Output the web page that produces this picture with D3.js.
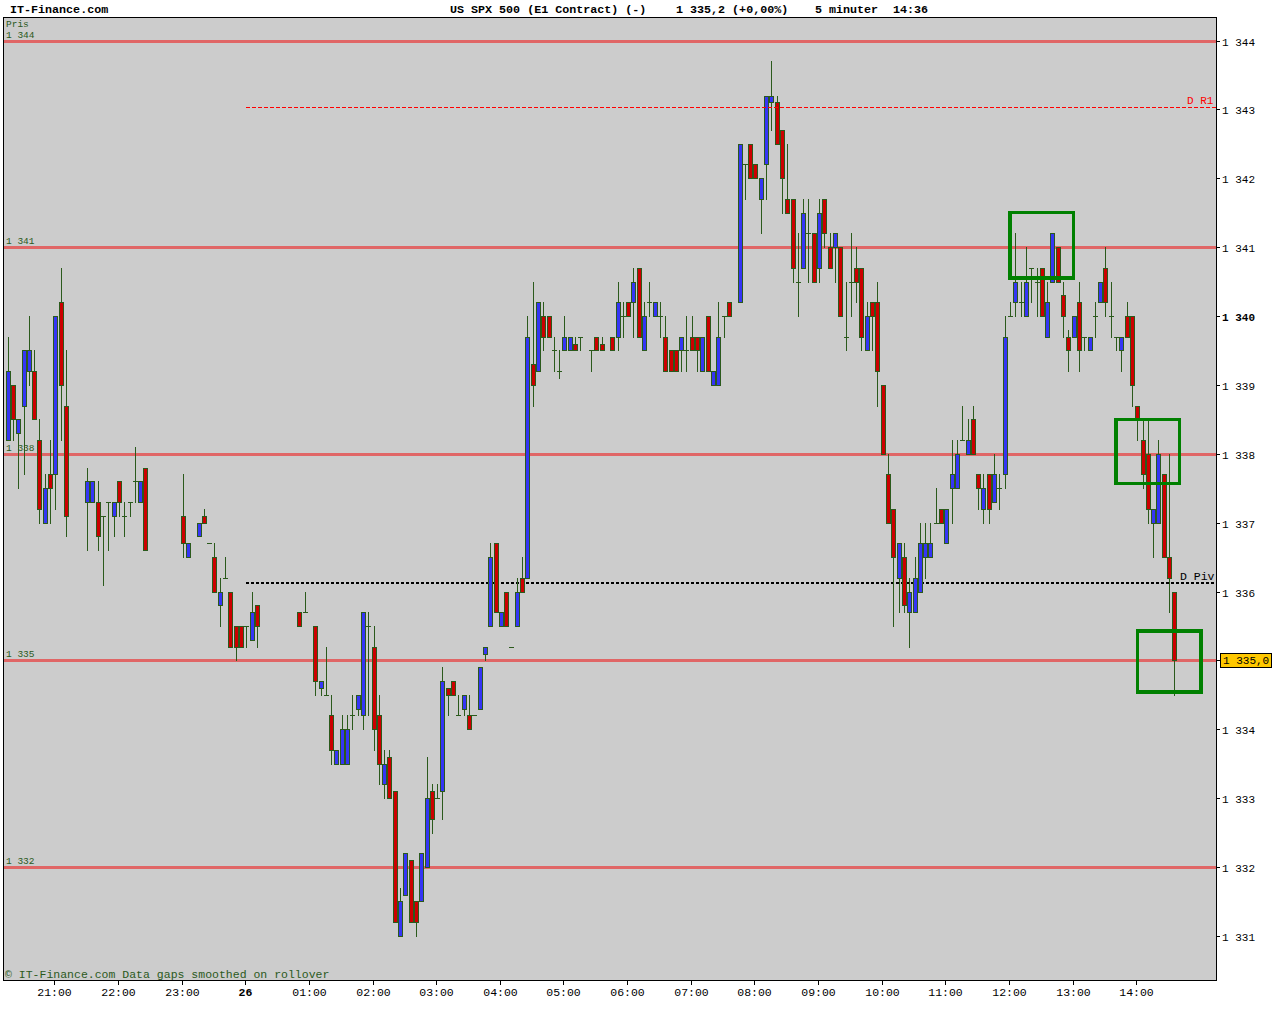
<!DOCTYPE html>
<html><head><meta charset="utf-8">
<script src="https://cdn.jsdelivr.net/npm/d3@7/dist/d3.min.js"></script>
<style>body{margin:0;background:#fff}svg{display:block}</style>
</head><body>
<svg id="c" width="1280" height="1024"></svg>
<script>
// ---------- DATA ----------
const times = [
"20:15","20:20","20:25","20:30","20:35","20:40","20:45","20:50","20:55","21:00","21:05","21:10",
"21:30","21:35","21:40","21:45","21:50","21:55","22:00","22:05","22:10","22:15","22:20","22:25",
"23:00","23:05","23:15","23:20","23:25","23:30","23:35","23:40","23:45","23:50","23:55","00:00","00:05","00:10",
"00:50","00:55",
"01:05","01:10","01:15","01:20","01:25","01:30","01:35","01:40","01:45","01:50","01:55",
"02:00","02:05","02:10","02:15","02:20","02:25","02:30","02:35","02:40","02:45","02:50","02:55",
"03:00","03:05","03:10","03:15","03:20","03:25","03:30","03:35","03:40","03:45","03:50","03:55",
"04:00","04:05","04:10","04:15","04:20","04:25","04:30","04:35","04:40","04:45","04:50","04:55",
"05:00","05:05","05:10","05:15","05:25","05:30","05:35","05:45","05:50","05:55",
"06:00","06:05","06:10","06:15","06:20","06:25","06:30","06:35","06:40","06:45","06:50","06:55",
"07:00","07:05","07:10","07:15","07:20","07:25","07:30","07:35","07:45","07:50","07:55",
"08:00","08:05","08:10","08:15","08:20","08:25","08:30","08:35","08:40","08:45","08:50","08:55",
"09:00","09:05","09:10","09:15","09:20","09:25","09:30","09:35","09:40","09:45","09:50","09:55",
"10:00","10:05","10:10","10:15","10:20","10:25","10:30","10:35","10:40","10:45","10:50","10:55",
"11:00","11:05","11:10","11:15","11:20","11:25","11:30","11:35","11:40","11:45","11:50","11:55",
"12:00","12:05","12:10","12:15","12:20","12:25","12:30","12:35","12:40","12:45","12:50","12:55",
"13:00","13:05","13:10","13:15","13:20","13:25","13:30","13:35","13:40","13:45","13:50","13:55",
"14:00","14:05","14:10","14:15","14:20","14:25","14:30","14:35"];

const open = [
338.2,339.0,338.3,338.7,339.2,339.2,338.2,337.0,337.7,337.7,340.2,338.7,
337.3,337.3,337.3,337.1,337.3,337.1,337.6,337.1,337.3,337.6,337.3,337.8,
337.1,336.5,336.8,337.1,336.7,336.5,335.8,336.2,336.0,335.5,335.5,335.5,335.3,335.8,
335.7,335.7,
335.5,334.6,334.5,334.2,333.5,333.5,333.5,334.2,334.3,334.2,335.5,
335.2,334.2,333.2,333.6,333.1,331.0,331.6,332.1,331.5,331.5,332.0,333.1,
333.0,333.1,334.6,334.7,334.2,334.3,334.2,334.2,334.3,335.1,335.5,336.7,
335.5,336.0,335.2,335.5,336.2,336.2,339.3,339.2,340.0,340.0,339.5,339.2,
339.5,339.5,339.6,339.7,339.5,339.7,339.6,339.7,339.7,340.0,
340.2,340.2,340.7,339.5,340.2,340.0,340.0,339.7,339.5,339.5,339.5,339.5,
339.7,339.7,339.2,340.0,339.0,339.0,340.0,340.2,340.2,342.2,342.5,
342.2,341.7,342.2,343.1,343.1,342.7,341.7,341.7,340.5,340.7,341.2,341.2,
340.7,341.7,341.0,341.0,341.0,339.7,340.5,340.7,340.7,339.5,340.2,340.2,
339.0,337.7,337.2,336.2,336.5,335.7,335.7,336.0,336.5,336.5,337.0,337.2,
336.7,337.5,337.5,338.2,338.0,338.5,337.7,337.2,337.7,337.3,337.5,337.7,
340.0,340.2,340.2,340.0,340.7,340.5,340.7,339.7,340.5,341.0,340.3,339.7,
339.7,340.2,339.7,339.5,340.0,340.2,340.7,340.0,339.7,339.5,340.0,340.0,
338.7,338.2,338.0,337.0,337.0,337.7,336.5,336.0];

const high = [
339.7,339.0,338.5,339.5,340.0,339.5,338.5,337.7,338.2,340.0,340.7,339.5,
337.8,337.6,337.6,337.1,337.3,337.3,337.6,337.3,337.3,338.1,337.6,337.8,
337.7,336.7,337.0,337.2,336.7,336.7,336.2,336.5,336.0,335.5,335.5,335.5,336.0,335.8,
335.7,336.0,
335.5,334.7,335.2,334.5,333.7,334.2,334.2,334.5,334.5,335.7,335.7,
335.5,334.5,333.7,333.7,333.1,331.7,332.2,332.1,331.5,332.2,333.6,333.2,
333.2,334.9,334.6,334.7,334.5,334.5,334.5,334.2,334.9,335.2,336.7,336.7,
335.7,336.0,335.2,336.2,336.5,340.0,340.5,340.2,340.2,340.0,339.7,339.5,
340.0,339.7,339.7,339.7,339.5,339.7,339.7,339.7,340.5,340.2,
340.2,340.7,340.7,340.2,340.5,340.2,340.2,340.0,339.5,339.5,339.7,340.0,
340.0,339.7,339.7,340.0,339.2,340.2,340.0,340.2,342.5,342.2,342.5,
342.2,342.0,343.2,343.7,343.2,342.7,342.5,341.7,341.2,341.7,341.7,341.2,
341.7,341.7,341.2,341.2,341.0,340.5,341.2,341.0,340.7,340.2,340.2,340.5,
339.0,338.0,337.2,336.7,336.7,336.2,336.5,337.0,337.0,337.0,337.5,337.2,
337.2,338.2,338.2,338.7,338.5,338.7,337.7,337.7,337.7,338.0,337.7,340.0,
340.2,341.2,340.5,341.0,340.7,340.7,340.7,340.5,341.2,341.0,340.5,339.8,
340.0,340.5,339.7,339.7,340.2,340.5,341.0,340.5,339.7,339.7,340.2,340.0,
338.7,338.5,338.5,337.2,338.2,337.7,338.0,336.0];

const low = [
338.2,338.2,337.5,337.7,339.0,338.5,337.0,337.0,337.0,337.2,338.2,336.8,
336.6,337.3,336.6,336.1,336.6,336.8,337.1,336.8,337.1,337.3,337.3,336.6,
336.5,336.5,336.8,337.0,336.7,336.0,335.5,336.2,335.2,335.0,335.2,335.2,335.3,335.2,
335.5,335.7,
334.5,334.5,334.5,333.5,333.5,333.5,333.5,334.0,334.2,334.0,334.2,
333.7,333.2,333.0,333.0,331.2,331.0,331.6,331.2,331.0,331.5,332.0,332.5,
333.0,332.7,334.2,334.5,334.2,334.2,334.0,334.2,334.3,335.0,335.5,335.7,
335.5,335.5,335.2,335.5,336.0,336.2,338.7,339.2,339.5,339.7,339.2,339.1,
339.5,339.5,339.5,339.5,339.2,339.5,339.5,339.5,339.5,339.7,
340.0,339.7,339.7,339.5,340.0,340.0,339.7,339.2,339.2,339.2,339.2,339.2,
339.5,339.2,339.2,339.2,339.0,339.0,339.7,340.0,340.2,341.7,342.0,
342.0,341.2,341.7,342.7,342.5,341.5,341.5,340.5,340.0,340.7,340.5,340.5,
340.5,341.0,340.7,340.5,340.0,339.5,340.0,340.2,339.5,339.5,339.5,338.7,
338.0,337.0,335.5,335.7,335.7,335.2,335.7,336.0,336.2,336.5,337.0,337.0,
336.7,337.0,337.5,338.2,338.0,338.0,337.2,337.0,337.0,337.3,337.2,337.5,
340.0,340.0,340.0,340.0,340.2,340.0,340.0,339.7,340.5,340.5,339.7,339.2,
339.7,339.2,339.5,339.5,339.7,340.2,340.0,339.7,339.5,339.2,339.7,338.7,
338.2,337.5,337.0,336.5,337.0,336.5,335.7,334.5];

const close = [
339.2,338.5,338.5,339.5,339.5,338.5,337.2,337.5,337.5,340.0,339.0,337.1,
337.6,337.6,336.8,337.1,337.3,337.3,337.3,337.1,337.3,337.6,337.6,336.6,
336.7,336.7,337.0,337.0,336.7,336.0,336.0,336.2,335.2,335.2,335.2,335.5,335.7,335.5,
335.5,335.7,
334.7,334.7,334.5,333.7,333.7,334.0,334.0,334.2,334.5,335.7,335.5,
334.0,333.5,333.5,333.0,331.2,331.5,332.2,331.2,331.2,332.2,333.0,332.7,
333.0,334.7,334.5,334.5,334.2,334.5,334.0,334.2,334.9,335.2,336.5,335.7,
335.7,335.5,335.2,336.0,336.0,339.7,339.0,340.2,339.7,339.7,339.5,339.2,
339.7,339.7,339.5,339.7,339.5,339.5,339.5,339.5,340.2,340.0,
340.0,340.5,339.7,340.0,340.2,340.2,340.0,339.2,339.2,339.2,339.7,339.5,
339.5,339.5,339.7,339.2,339.2,339.7,340.0,340.0,342.5,342.2,342.0,
342.0,342.0,343.2,343.2,342.5,342.0,341.5,340.7,340.5,341.5,341.2,340.5,
341.5,341.2,340.7,341.2,340.0,339.7,340.5,340.5,339.7,340.0,340.0,339.2,
338.0,337.0,336.5,336.7,335.8,336.0,336.2,336.7,336.7,336.7,337.0,337.0,
337.2,337.7,338.0,338.2,338.2,338.0,337.5,337.5,337.2,337.7,337.5,339.7,
340.0,340.5,340.2,340.5,340.7,340.5,340.0,340.2,341.2,340.5,340.0,339.5,
340.0,339.5,339.7,339.7,340.0,340.5,340.2,340.0,339.7,339.7,339.7,339.0,
338.5,337.7,337.2,337.2,338.0,336.5,336.2,335.0];

const priceTicks = [331,332,333,334,335,336,337,338,339,340,341,342,343,344];
const timeTicks = ["21:00","22:00","23:00","00:00","01:00","02:00","03:00","04:00","05:00","06:00","07:00","08:00","09:00","10:00","11:00","12:00","13:00","14:00"];
const timeTickLabels = ["21:00","22:00","23:00","26","01:00","02:00","03:00","04:00","05:00","06:00","07:00","08:00","09:00","10:00","11:00","12:00","13:00","14:00"];
const levelLines = [344,341,338,335,332];
const pivotR1 = 343.04, pivotD = 336.13, pivotStart = "00:00";
const boxT0 = ["12:00","13:40","14:00"], boxT1 = ["13:00","14:40","15:00"];
const boxPHi = [341.5,338.5,335.43], boxPLo = [340.55,337.57,334.54];
const lastMarker = 335.0;

// ---------- SCALES ----------
const tm = s => { const [h,m] = s.split(':').map(Number); let v = h*60+m; if (h < 20) v += 1440; return v - 1215; };
const x = d3.scaleLinear().domain([0,1100]).range([7.6,1174.4]);
const y = d3.scaleLinear().domain([331,344]).range([935.9,40.5]);

const L = 3, R = 1216, T = 17, B = 980;
const svg = d3.select('#c');
const mono = "'Liberation Mono','DejaVu Sans Mono',monospace";
const dk = '#2b5a1c';

// header
svg.append('text').attr('x',10).attr('y',12.5).attr('font-family',mono).attr('font-weight','bold')
  .attr('font-size','11.7px').attr('fill','#000').text('IT-Finance.com');
[["US SPX 500 (E1 Contract) (-)",450],["1 335,2 (+0,00%)",676],["5 minuter",815],["14:36",893]].forEach(([t,px])=>{
  svg.append('text').attr('x',px).attr('y',12.5).attr('font-family',mono).attr('font-weight','bold')
    .attr('font-size','11.7px').attr('fill','#000').text(t);
});

// plot background
svg.append('rect').attr('x',L+0.5).attr('y',T+0.5).attr('width',R-L).attr('height',B-T)
  .attr('fill','#cccccc').attr('stroke','#000').attr('stroke-width',1);

const plot = svg.append('g').attr('shape-rendering','crispEdges');

// level lines
levelLines.forEach(p=>{
  plot.append('rect').attr('x',L+1).attr('width',R-L-1).attr('y',Math.round(y(p))-1).attr('height',3).attr('fill','#e06666');
  svg.append('text').attr('x',6).attr('y',Math.round(y(p))-3).attr('font-family',mono).attr('font-size','9.5px')
    .attr('fill',dk).text('1 '+p);
});
svg.append('text').attr('x',6).attr('y',27).attr('font-family',mono).attr('font-size','9.5px').attr('fill',dk).text('Pris');

// pivot lines
const xs = Math.round(x(tm(pivotStart)));
const yR1 = Math.round(y(pivotR1));
svg.append('line').attr('x1',xs).attr('x2',R).attr('y1',yR1+0.5).attr('y2',yR1+0.5)
  .attr('stroke','#ff0000').attr('stroke-width',1).attr('stroke-dasharray','4,2');
plot.append('line').attr('x1',xs).attr('x2',R).attr('y1',Math.round(y(pivotD))).attr('y2',Math.round(y(pivotD)))
  .attr('stroke','#000').attr('stroke-width',2).attr('stroke-dasharray','3,2');
svg.append('text').attr('x',1187).attr('y',yR1-3).attr('font-family',mono).attr('font-size','11px').attr('fill','#ff0000').text('D R1');
svg.append('text').attr('x',1180).attr('y',Math.round(y(pivotD))-3).attr('font-family',mono).attr('font-size','11.5px').attr('fill','#000').text('D Piv');

// candles
const candles = times.map((t,i)=>({t:tm(t),o:open[i],h:high[i],l:low[i],c:close[i]}));
const g = plot.append('g');
candles.forEach(d=>{
  const cx = Math.round(x(d.t));
  g.append('line').attr('x1',cx+0.5).attr('x2',cx+0.5).attr('y1',Math.round(y(d.h))).attr('y2',Math.round(y(d.l))+1)
    .attr('stroke',dk).attr('stroke-width',1);
  if (Math.abs(d.o-d.c) < 0.05) {
    g.append('line').attr('x1',cx-2).attr('x2',cx+3).attr('y1',Math.round(y(d.o))+0.5).attr('y2',Math.round(y(d.o))+0.5)
      .attr('stroke',dk).attr('stroke-width',1);
  } else {
    const top = Math.round(y(Math.max(d.o,d.c))), bot = Math.round(y(Math.min(d.o,d.c)));
    g.append('rect').attr('x',cx-1.5).attr('y',top+0.5).attr('width',4).attr('height',Math.max(1,bot-top))
      .attr('fill', d.c > d.o ? '#3535f5' : '#cc0000').attr('stroke',dk).attr('stroke-width',1);
  }
});

// green boxes
boxT0.forEach((t0,i)=>{
  const x0 = x(tm(t0)), x1 = x(tm(boxT1[i]));
  const y0 = y(boxPHi[i]), y1 = y(boxPLo[i]);
  plot.append('rect').attr('x',x0).attr('y',y0).attr('width',x1-x0).attr('height',y1-y0)
    .attr('fill','none').attr('stroke','#008000').attr('stroke-width',3.5);
});

// right axis (the 335 label is replaced by the last-price marker)
priceTicks.forEach(p=>{
  const yy = Math.round(y(p))+0.5;
  svg.append('line').attr('x1',R).attr('x2',R+4).attr('y1',yy).attr('y2',yy).attr('stroke','#000').attr('shape-rendering','crispEdges');
  if (p === 335) return;
  svg.append('text').attr('x',1222).attr('y',yy+4).attr('font-family',mono).attr('font-size','11px')
    .attr('font-weight', p===340 ? 'bold' : 'normal').attr('fill','#000').text('1 '+p);
});
// last price marker
const ym = Math.round(y(lastMarker));
svg.append('rect').attr('x',1220.5).attr('y',ym-6.5).attr('width',51).attr('height',14).attr('fill','#ffc800').attr('stroke','#000').attr('shape-rendering','crispEdges');
svg.append('text').attr('x',1223).attr('y',ym+4).attr('font-family',mono).attr('font-size','11px').attr('fill','#000').text('1 335,0');

// bottom axis
timeTicks.forEach((t,i)=>{
  const xx = Math.round(x(tm(t)))-0.5;
  svg.append('line').attr('x1',xx).attr('x2',xx).attr('y1',B).attr('y2',B+5).attr('stroke','#000').attr('shape-rendering','crispEdges');
  svg.append('text').attr('x',xx).attr('y',996).attr('text-anchor','middle').attr('font-family',mono).attr('font-size','11.5px')
    .attr('font-weight', timeTickLabels[i]==='26' ? 'bold' : 'normal').attr('fill','#000').text(timeTickLabels[i]);
});

svg.append('text').attr('x',5).attr('y',978).attr('font-family',mono).attr('font-size','11.5px').attr('fill',dk)
  .text('© IT-Finance.com Data gaps smoothed on rollover');
</script>
</body></html>
